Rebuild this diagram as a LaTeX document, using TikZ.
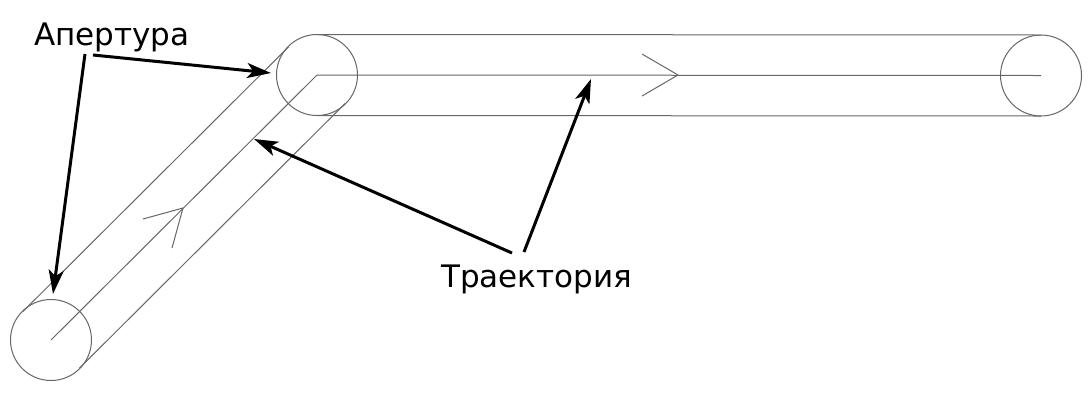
\documentclass[tikz,border=0pt]{standalone}
\usepackage{fontspec}
\setmainfont{DejaVu Sans}
\usetikzlibrary{arrows.meta,calc}
\begin{document}
\begin{tikzpicture}[x=1pt,y=-1pt,
  thin line/.style={draw=black!60,line width=1pt},
  aperture/.style={circle,draw=black!60,line width=1pt,minimum size=81pt,inner sep=0pt},
  pointer/.style={draw=black,line width=3pt,-{Stealth[length=24pt,width=15pt,inset=6pt]}},
  label text/.style={font=\fontsize{31}{36}\selectfont,inner sep=0pt,anchor=base west}]
\useasboundingbox (0,0) rectangle (1092,400);
% apertures
\node[aperture] (A) at (51,340) {};
\node[aperture] (B) at (317,75) {};
\node[aperture] (C) at (1041,75.5) {};
% tube walls
\draw[thin line] ($(A)+(-28.3,-28.3)$) -- ($(B)+(-28.3,-28.3)$);
\draw[thin line] ($(A)+(28.3,28.3)$) -- ($(B)+(28.3,28.3)$);
\draw[thin line] ($(B)+(0,-40.5)$) -- ($(C)+(0,-40.5)$);
\draw[thin line] ($(B)+(0,40.5)$) -- ($(C)+(0,40.5)$);
% trajectory
\draw[thin line] (A.center) -- (B.center) -- (C.center);
\coordinate (d1) at (183,208);
\coordinate (d2) at (678,75);
\draw[thin line] ($(d1)+(-40,11)$) -- (d1) -- ($(d1)+(-11,40)$);
\draw[thin line] ($(d2)+(-36,-21)$) -- (d2) -- ($(d2)+(-36,21)$);
% labels
\node[label text] (ap) at (34,45) {Апертура};
\node[label text] (tr) at (441,287) {Траектория};
% pointers
\coordinate (p1s) at (93,55);
\coordinate (p1e) at (271,73);
\coordinate (p2s) at (85,54);
\coordinate (p2e) at (53,294);
\coordinate (p3s) at (512,253);
\coordinate (p3e) at (254,139);
\coordinate (p4s) at (524,252);
\coordinate (p4e) at (591,79);
\draw[pointer] (p1s) -- (p1e);
\draw[pointer] (p2s) -- (p2e);
\draw[pointer] (p3s) -- (p3e);
\draw[pointer] (p4s) -- (p4e);
\end{tikzpicture}
\end{document}
